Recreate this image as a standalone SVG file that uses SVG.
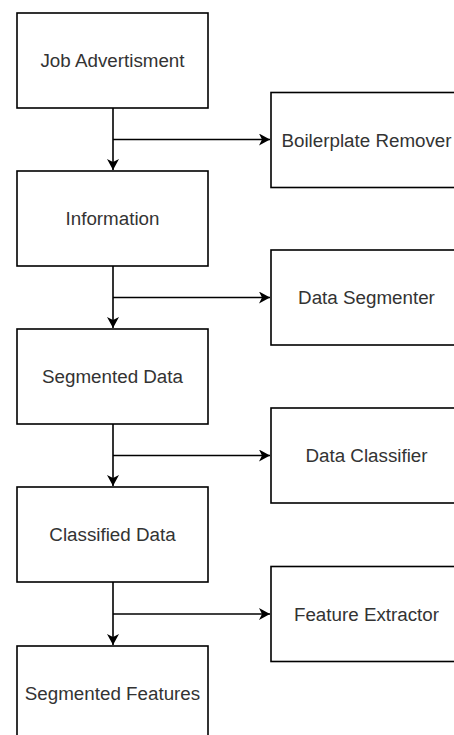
<svg xmlns="http://www.w3.org/2000/svg" width="454" height="735" viewBox="0 0 454 735">
<style>
.box{fill:#ffffff;stroke:#000000;stroke-width:1.6}
.lbl{font-family:"Liberation Sans",Arial,Helvetica,sans-serif;font-size:18.8px;fill:#333333;text-anchor:middle;dominant-baseline:central}
.edge{fill:none;stroke:#000000;stroke-width:1.6}
</style>
<defs>
<marker id="arr" viewBox="0 0 12 12" refX="11" refY="6" markerWidth="12" markerHeight="12" markerUnits="userSpaceOnUse" orient="auto">
<path d="M0,0 L11,6 L0,12 L3,6 Z" fill="#000000"/>
</marker>
</defs>
<rect width="454" height="735" fill="#ffffff"/>
<g id="connectors">
<path class="edge" d="M113,108 L113,170" marker-end="url(#arr)"/>
<path class="edge" d="M113,139.5 L270,139.5" marker-end="url(#arr)"/>
<path class="edge" d="M113,266 L113,328" marker-end="url(#arr)"/>
<path class="edge" d="M113,297.5 L270,297.5" marker-end="url(#arr)"/>
<path class="edge" d="M113,424 L113,486" marker-end="url(#arr)"/>
<path class="edge" d="M113,455.5 L270,455.5" marker-end="url(#arr)"/>
<path class="edge" d="M113,582 L113,645" marker-end="url(#arr)"/>
<path class="edge" d="M113,614 L270,614" marker-end="url(#arr)"/>
</g>
<g id="job-advertisment"><rect class="box" x="17" y="13" width="191" height="95"/><text class="lbl" x="112.5" y="60.5">Job Advertisment</text></g>
<g id="information"><rect class="box" x="17" y="171" width="191" height="95"/><text class="lbl" x="112.5" y="218.5">Information</text></g>
<g id="segmented-data"><rect class="box" x="17" y="329" width="191" height="95"/><text class="lbl" x="112.5" y="376.5">Segmented Data</text></g>
<g id="classified-data"><rect class="box" x="17" y="487" width="191" height="95"/><text class="lbl" x="112.5" y="534.5">Classified Data</text></g>
<g id="segmented-features"><rect class="box" x="17" y="646" width="191" height="95"/><text class="lbl" x="112.5" y="693.5">Segmented Features</text></g>
<g id="boilerplate-remover"><rect class="box" x="271" y="92.5" width="191" height="95"/><text class="lbl" x="366.5" y="140">Boilerplate Remover</text></g>
<g id="data-segmenter"><rect class="box" x="271" y="250" width="191" height="95"/><text class="lbl" x="366.5" y="297.5">Data Segmenter</text></g>
<g id="data-classifier"><rect class="box" x="271" y="408" width="191" height="95"/><text class="lbl" x="366.5" y="455.5">Data Classifier</text></g>
<g id="feature-extractor"><rect class="box" x="271" y="566.5" width="191" height="95"/><text class="lbl" x="366.5" y="614">Feature Extractor</text></g>
</svg>
